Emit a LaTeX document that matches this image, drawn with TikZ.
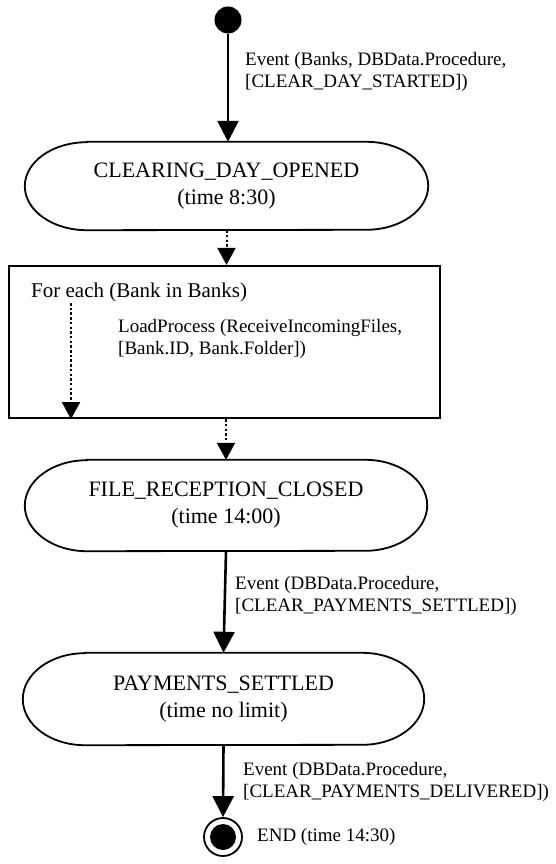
\documentclass[tikz,border=0pt]{standalone}
\usepackage{fontspec}
\setmainfont{Liberation Serif}
\usetikzlibrary{arrows.meta}

\tikzset{
  statefont/.style={font=\fontsize{22}{27}\selectfont},
  labelfont/.style={font=\fontsize{19}{22}\selectfont},
  statenode/.style={rectangle, draw=none, minimum width=#1, minimum height=88pt,
    statefont, align=center, inner sep=0pt},
  stadium/.style={line width=1.8pt},
  lbl/.style={labelfont, anchor=west, align=left, inner sep=0pt},
  solidarrow/.style={line width=2.6pt, -{Triangle[width=21pt,length=21pt]}},
  dotarrow/.style={line width=2pt, dash pattern=on 2.5pt off 2.2pt,
    -{Triangle[width=18pt,length=17pt]}},
  framebox/.style={draw, line width=2.2pt},
}

% closed stadium outline around a named node, elliptic ends
\newcommand{\stadiumoutline}[3]{%
  \draw[stadium] ([xshift=#2]#1.north west) -- ([xshift=-#2]#1.north east)
    arc[start angle=90, end angle=-90, x radius=#2, y radius=#3]
    -- ([xshift=#2]#1.south west)
    arc[start angle=270, end angle=90, x radius=#2, y radius=#3] -- cycle;}

\begin{document}
\begin{tikzpicture}[x=1pt,y=1pt]
\useasboundingbox (0,0) rectangle (556,-864);

% initial pseudo-state
\node[circle, fill, minimum size=27pt, inner sep=0pt] (start) at (228,-20) {};

% states
\node[statenode=403pt, minimum height=88pt] (s1) at (226.5,-186) {CLEARING\_DAY\_OPENED\\(time 8:30)};
\stadiumoutline{s1}{62pt}{44pt}

\node[framebox, minimum width=431pt, minimum height=152pt, inner sep=0pt] (loop) at (224.5,-342) {};

\node[statenode=402pt, minimum height=91pt] (s2) at (226,-505.5) {FILE\_RECEPTION\_CLOSED\\(time 14:00)};
\stadiumoutline{s2}{62pt}{45.5pt}

\node[statenode=401pt, minimum height=92pt] (s3) at (223.5,-699) {PAYMENTS\_SETTLED\\(time no limit)};
\stadiumoutline{s3}{62pt}{46pt}

% final state
\node[circle, draw, line width=1.8pt, minimum size=38pt, inner sep=0pt] (final) at (223,-837) {};
\node[circle, fill, minimum size=26pt, inner sep=0pt] (finaldot) at (final.center) {};

% loop body
\node[lbl, font=\fontsize{21}{25}\selectfont] (foreach) at (31,-292) {For each (Bank in Banks)};
\node[lbl] (loadproc) at (118,-339) {LoadProcess (ReceiveIncomingFiles,\\{}[Bank.ID, Bank.Folder])};
\coordinate (inner0) at (71,-303);
\draw[dotarrow] (inner0) -- (inner0 |- loop.south);

% transitions
\draw[solidarrow] (start) -- (start |- s1.north);
\draw[dotarrow] (s1.south) -- (loop.north -| s1.south);
\draw[dotarrow] (loop.south -| s2.north) -- (s2.north);
\draw[solidarrow] (s2.south) -- (s3.north);
\draw[solidarrow] (s3.south) -- (final.north);

% transition labels
\node[lbl] (ev1) at (245,-72) {Event (Banks, DBData.Procedure,\\{}[CLEAR\_DAY\_STARTED])};
\node[lbl] (ev2) at (235,-596) {Event (DBData.Procedure,\\{}[CLEAR\_PAYMENTS\_SETTLED])};
\node[lbl] (ev3) at (243,-782) {Event (DBData.Procedure,\\{}[CLEAR\_PAYMENTS\_DELIVERED])};
\node[lbl] (endlbl) at (257,-837) {END (time 14:30)};
\end{tikzpicture}
\end{document}
